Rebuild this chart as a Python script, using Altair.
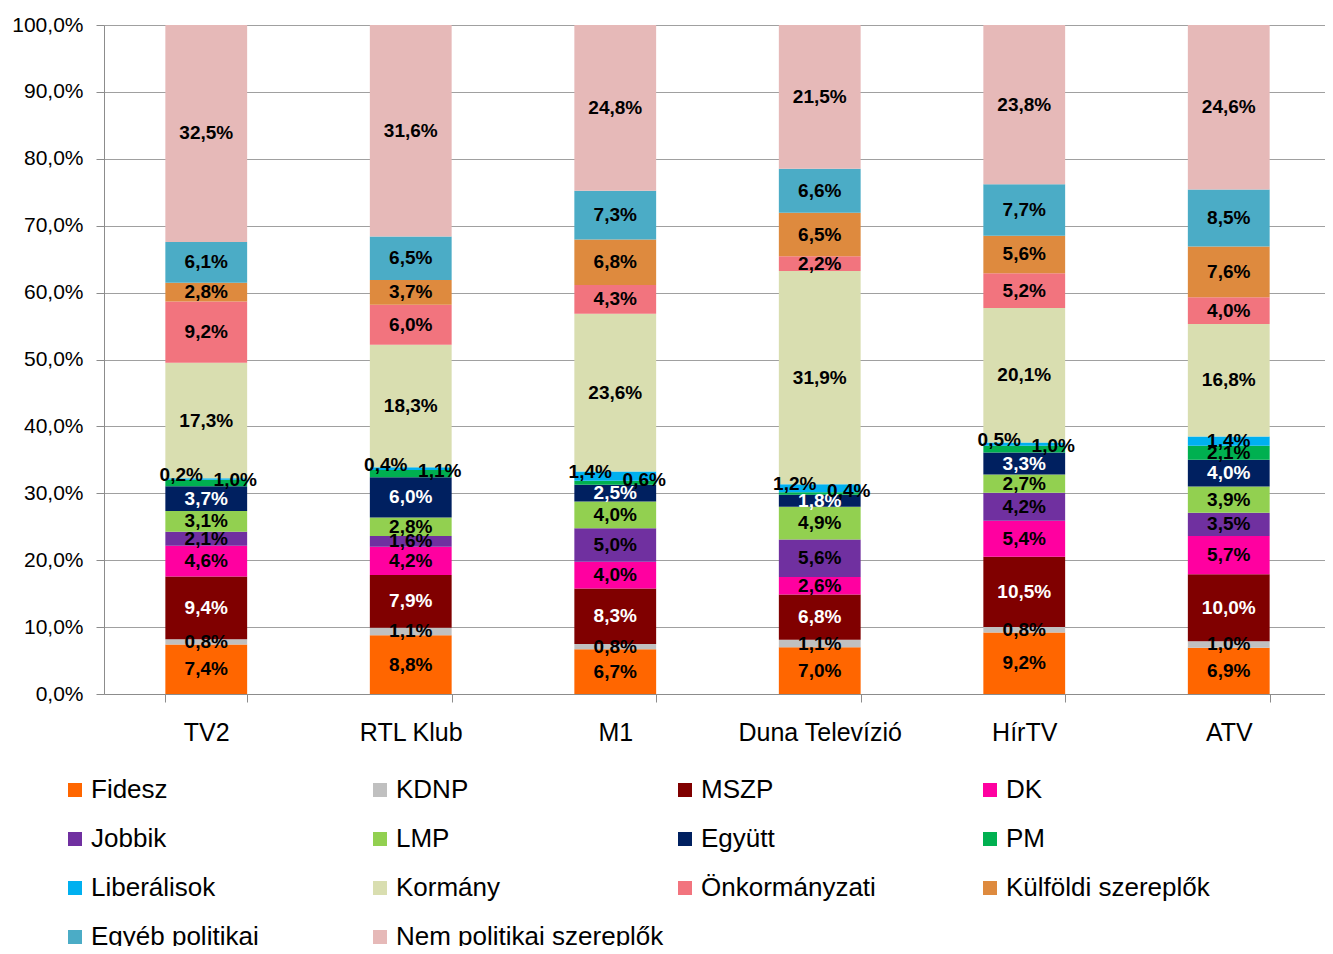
import altair as alt
import pandas as pd

channels = ["TV2", "RTL Klub", "M1", "Duna Televízió", "HírTV", "ATV"]
categories = ["Fidesz", "KDNP", "MSZP", "DK", "Jobbik", "LMP", "Együtt", "PM",
              "Liberálisok", "Kormány", "Önkormányzati", "Külföldi szereplők",
              "Egyéb politikai", "Nem politikai szereplők"]
colors = ["#FF6600", "#C0C0C0", "#800000", "#FF00A0", "#7030A0", "#92D050", "#002060",
          "#00B050", "#00B0F0", "#D9DEB0", "#F2747E", "#DE8A3E", "#4BACC6", "#E6B9B8"]

# values per category, in channel order
fidesz = [7.4, 8.8, 6.7, 7.0, 9.2, 6.9]
kdnp = [0.8, 1.1, 0.8, 1.1, 0.8, 1.0]
mszp = [9.4, 7.9, 8.3, 6.8, 10.5, 10.0]
dk = [4.6, 4.2, 4.0, 2.6, 5.4, 5.7]
jobbik = [2.1, 1.6, 5.0, 5.6, 4.2, 3.5]
lmp = [3.1, 2.8, 4.0, 4.9, 2.7, 3.9]
egyutt = [3.7, 6.0, 2.5, 1.8, 3.3, 4.0]
pm = [1.0, 1.1, 0.6, 0.4, 1.0, 2.1]
liberalisok = [0.2, 0.4, 1.4, 1.2, 0.5, 1.4]
kormany = [17.3, 18.3, 23.6, 31.9, 20.1, 16.8]
onkormanyzati = [9.2, 6.0, 4.3, 2.2, 5.2, 4.0]
kulfoldi = [2.8, 3.7, 6.8, 6.5, 5.6, 7.6]
egyeb = [6.1, 6.5, 7.3, 6.6, 7.7, 8.5]
nem_politikai = [32.5, 31.6, 24.8, 21.5, 23.8, 24.6]

series = [fidesz, kdnp, mszp, dk, jobbik, lmp, egyutt, pm, liberalisok, kormany,
          onkormanyzati, kulfoldi, egyeb, nem_politikai]

rows = []
for i, (cat, vals) in enumerate(zip(categories, series)):
    for ch, v in zip(channels, vals):
        rows.append({"channel": ch, "cat": cat, "idx": i, "value": v,
                     "label": f"{v:.1f}%".replace(".", ",")})
df = pd.DataFrame(rows)

FONT = "Liberation Sans"

base = alt.Chart(df).transform_stack(
    stack="value", groupby=["channel"], as_=["y0", "y1"],
    sort=[alt.SortField("idx", order="ascending")], offset="normalize"
).transform_calculate(mid="(datum.y0 + datum.y1) / 2")

xenc = alt.X("channel:N", sort=channels, title=None,
             scale=alt.Scale(paddingInner=0.6, paddingOuter=0.3, range=[0, 1227]),
             axis=alt.Axis(labelAngle=0, tickBand="extent", tickSize=8, tickColor="#8C8C8C",
                           domainColor="#8C8C8C", labelFont=FONT, labelFontSize=25,
                           labelColor="black", labelPadding=18))

bars = base.mark_bar().encode(
    x=xenc,
    y=alt.Y("y0:Q", scale=alt.Scale(domain=[0, 1]), title=None,
            axis=alt.Axis(values=[i / 10 for i in range(11)],
                          labelExpr="replace(format(datum.value, '.1%'), '.', ',')",
                          grid=True, gridColor="#A0A0A0", tickSize=8, tickColor="#8C8C8C",
                          domainColor="#8C8C8C", labelFont=FONT, labelFontSize=21,
                          labelColor="black", labelPadding=13)),
    y2="y1:Q",
    color=alt.Color("cat:N", sort=categories,
                    scale=alt.Scale(domain=categories, range=colors),
                    legend=alt.Legend(title=None, orient="none", legendX=-42, legendY=752,
                                      columns=4, direction="horizontal", gridAlign="all",
                                      columnPadding=8, rowPadding=23, padding=0,
                                      symbolType="square", symbolSize=196, symbolStrokeWidth=0,
                                      labelFont=FONT, labelFontSize=26, labelColor="black",
                                      labelOffset=3, labelLimit=400)),
    order=alt.Order("idx:Q", sort="ascending"),
)

text_color = alt.condition("datum.cat == 'MSZP' || datum.cat == 'Együtt'",
                           alt.value("white"), alt.value("black"))

def labels(filter_expr, dx=0, dy=0):
    return base.transform_filter(filter_expr).mark_text(
        font=FONT, fontSize=19, fontWeight="bold", dx=dx, dy=dy, baseline="middle"
    ).encode(
        x=alt.X("channel:N", sort=channels),
        y=alt.Y("mid:Q"),
        text="label:N",
        color=text_color,
    )

small = "(datum.cat == 'PM' || datum.cat == 'Liberálisok') && datum.channel != 'ATV'"
main_labels = labels("!(" + small + ")")
lib_labels = labels("datum.cat == 'Liberálisok' && datum.channel != 'ATV'", dx=-25, dy=-4)
pm_labels = labels("datum.cat == 'PM' && datum.channel != 'ATV'", dx=29, dy=-3)

chart = alt.layer(bars, main_labels, lib_labels, pm_labels).properties(
    width=1221, height=669,
    autosize=alt.AutoSizeParams(type="none"),
    padding={"left": 96, "top": 17, "right": 0, "bottom": 252},
).configure_view(stroke=None).configure(background="white")

chart.save("out.html", embed_options={"renderer": "svg", "actions": False})
